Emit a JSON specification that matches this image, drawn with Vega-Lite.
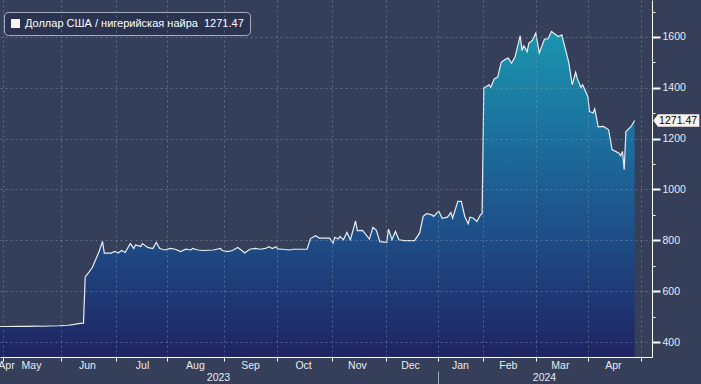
{
  "$schema": "https://vega.github.io/schema/vega-lite/v6.json",
  "width": 652,
  "height": 357,
  "autosize": {"type": "none"},
  "padding": {"left": 0, "top": 0, "right": 49, "bottom": 27},
  "background": "#353f5a",
  "config": {"view": {"stroke": null}, "font": "Liberation Sans"},
  "data": {"values": [
    {"d":"2023-04-25","v":461},{"d":"2023-04-30","v":461},{"d":"2023-05-05","v":461.5},{"d":"2023-05-08","v":462},
    {"d":"2023-05-12","v":461.5},{"d":"2023-05-16","v":462.5},{"d":"2023-05-21","v":462},{"d":"2023-05-24","v":463},
    {"d":"2023-05-30","v":464},{"d":"2023-06-04","v":466},{"d":"2023-06-07","v":468.5},{"d":"2023-06-11","v":473},
    {"d":"2023-06-13","v":474},{"d":"2023-06-14","v":656},{"d":"2023-06-15","v":664},{"d":"2023-06-18","v":692},
    {"d":"2023-06-20","v":724},{"d":"2023-06-22","v":756},{"d":"2023-06-24","v":796},{"d":"2023-06-25","v":750},
    {"d":"2023-06-29","v":750},{"d":"2023-07-01","v":756},{"d":"2023-07-03","v":750},{"d":"2023-07-05","v":760},
    {"d":"2023-07-07","v":752},{"d":"2023-07-10","v":787},{"d":"2023-07-12","v":768},{"d":"2023-07-13","v":782},
    {"d":"2023-07-16","v":776},{"d":"2023-07-17","v":787},{"d":"2023-07-20","v":772},{"d":"2023-07-23","v":768},
    {"d":"2023-07-25","v":792},{"d":"2023-07-27","v":768},{"d":"2023-07-30","v":762},{"d":"2023-08-02","v":768},
    {"d":"2023-08-05","v":765},{"d":"2023-08-08","v":756},{"d":"2023-08-11","v":765},{"d":"2023-08-14","v":762},
    {"d":"2023-08-15","v":768},{"d":"2023-08-18","v":762},{"d":"2023-08-21","v":760},{"d":"2023-08-27","v":762},
    {"d":"2023-08-31","v":768},{"d":"2023-09-01","v":760},{"d":"2023-09-04","v":756},{"d":"2023-09-07","v":760},
    {"d":"2023-09-10","v":772},{"d":"2023-09-12","v":762},{"d":"2023-09-14","v":750},{"d":"2023-09-17","v":765},
    {"d":"2023-09-20","v":768},{"d":"2023-09-23","v":765},{"d":"2023-09-26","v":768},{"d":"2023-09-28","v":775},
    {"d":"2023-09-30","v":768},{"d":"2023-10-02","v":775},{"d":"2023-10-03","v":766},{"d":"2023-10-06","v":765},
    {"d":"2023-10-10","v":762},{"d":"2023-10-12","v":765},{"d":"2023-10-20","v":765},{"d":"2023-10-22","v":807},
    {"d":"2023-10-25","v":818},{"d":"2023-10-27","v":809},{"d":"2023-11-02","v":809},{"d":"2023-11-04","v":789},
    {"d":"2023-11-05","v":812},{"d":"2023-11-07","v":805},{"d":"2023-11-08","v":815},{"d":"2023-11-10","v":802},
    {"d":"2023-11-12","v":831},{"d":"2023-11-14","v":802},{"d":"2023-11-17","v":876},{"d":"2023-11-18","v":838},
    {"d":"2023-11-21","v":839},{"d":"2023-11-25","v":805},{"d":"2023-11-27","v":851},{"d":"2023-11-29","v":839},
    {"d":"2023-12-01","v":795},{"d":"2023-12-05","v":792},{"d":"2023-12-06","v":844},{"d":"2023-12-08","v":802},
    {"d":"2023-12-10","v":835},{"d":"2023-12-12","v":802},{"d":"2023-12-15","v":799},{"d":"2023-12-21","v":799},
    {"d":"2023-12-24","v":829},{"d":"2023-12-26","v":894},{"d":"2023-12-28","v":905},{"d":"2023-12-31","v":900},
    {"d":"2024-01-01","v":894},{"d":"2024-01-04","v":914},{"d":"2024-01-06","v":887},{"d":"2024-01-09","v":891},
    {"d":"2024-01-11","v":909},{"d":"2024-01-12","v":887},{"d":"2024-01-15","v":953},{"d":"2024-01-17","v":953},
    {"d":"2024-01-19","v":894},{"d":"2024-01-21","v":865},{"d":"2024-01-22","v":891},{"d":"2024-01-24","v":887},
    {"d":"2024-01-26","v":874},{"d":"2024-01-28","v":900},{"d":"2024-01-29","v":905},{"d":"2024-01-30","v":1399},
    {"d":"2024-02-02","v":1412},{"d":"2024-02-03","v":1402},{"d":"2024-02-05","v":1435},{"d":"2024-02-07","v":1442},
    {"d":"2024-02-09","v":1500},{"d":"2024-02-11","v":1510},{"d":"2024-02-13","v":1517},{"d":"2024-02-15","v":1497},
    {"d":"2024-02-17","v":1521},{"d":"2024-02-20","v":1605},{"d":"2024-02-21","v":1547},{"d":"2024-02-22","v":1565},
    {"d":"2024-02-23","v":1555},{"d":"2024-02-24","v":1542},{"d":"2024-02-25","v":1576},{"d":"2024-02-27","v":1586},
    {"d":"2024-02-29","v":1616},{"d":"2024-03-02","v":1537},{"d":"2024-03-05","v":1592},{"d":"2024-03-07","v":1592},
    {"d":"2024-03-09","v":1622},{"d":"2024-03-11","v":1612},{"d":"2024-03-13","v":1602},{"d":"2024-03-15","v":1608},
    {"d":"2024-03-19","v":1500},{"d":"2024-03-21","v":1412},{"d":"2024-03-23","v":1461},{"d":"2024-03-24","v":1435},
    {"d":"2024-03-26","v":1402},{"d":"2024-03-27","v":1412},{"d":"2024-03-30","v":1366},{"d":"2024-03-31","v":1307},
    {"d":"2024-04-02","v":1301},{"d":"2024-04-03","v":1317},{"d":"2024-04-05","v":1246},{"d":"2024-04-08","v":1248},
    {"d":"2024-04-11","v":1235},{"d":"2024-04-13","v":1157},{"d":"2024-04-15","v":1150},{"d":"2024-04-17","v":1143},
    {"d":"2024-04-18","v":1133},{"d":"2024-04-19","v":1150},{"d":"2024-04-20","v":1078},{"d":"2024-04-21","v":1228},
    {"d":"2024-04-24","v":1248},{"d":"2024-04-26","v":1271.47}
  ]},
  "resolve": {"axis": {"x": "independent", "y": "independent"}},
  "layer": [
    {
      "mark": {
        "type": "area",
        "clip": true,
        "color": {
          "gradient": "linear", "x1": 0, "y1": 0, "x2": 0, "y2": 1,
          "stops": [
            {"offset": 0, "color": "#1a95ae"},
            {"offset": 0.33, "color": "#1c6f9d"},
            {"offset": 0.64, "color": "#1e4c86"},
            {"offset": 1, "color": "#1f2462"}
          ]
        }
      },
      "encoding": {
        "x": {
          "field": "d", "type": "temporal",
          "scale": {"type": "utc", "nice": false, "domain": [1682452000000, 1714957056000]},
          "axis": {
            "orient": "bottom",
            "title": null,
            "values": [1682616672000, 1685478240000, 1688219712000, 1690777152000, 1693633536000, 1696246272000, 1698987744000, 1701694656000, 1704302208000, 1706515776000, 1709157888000, 1711749888000, 1714407552000],
            "labels": false,
            "ticks": true,
            "tickSize": 4,
            "tickColor": "#ffffff",
            "domain": true,
            "domainColor": "#ffffff",
            "grid": true,
            "gridColor": "#8796b5",
            "gridOpacity": 0.5,
            "gridDash": [2, 3],
            "zindex": 1
          }
        },
        "y": {
          "field": "v", "type": "quantitative",
          "scale": {"domain": [341, 1745.5], "nice": false, "zero": false},
          "axis": {
            "orient": "right",
            "title": null,
            "values": [400, 600, 800, 1000, 1200, 1400, 1600],
            "format": "d",
            "tickSize": 8,
            "tickWidth": 2,
            "tickColor": "#ffffff",
            "domainColor": "#ffffff",
            "labelPadding": 2,
            "labelColor": "#e8ebf0",
            "labelFontSize": 10.5,
            "labelFont": "Liberation Sans",
            "grid": true,
            "gridColor": "#8796b5",
            "gridOpacity": 0.5,
            "gridDash": [2, 3],
            "zindex": 1
          }
        },
        "y2": {"datum": 341}
      }
    },
    {
      "mark": {"type": "line", "color": "#e6ecf2", "strokeWidth": 1.2},
      "encoding": {
        "x": {
          "field": "d", "type": "temporal",
          "scale": {"type": "utc", "nice": false, "domain": [1682452000000, 1714957056000]},
          "axis": {
            "orient": "bottom",
            "title": null,
            "values": [1682751456000, 1683996480000, 1686787200000, 1689534720000, 1692169920000, 1694917440000, 1697561280000, 1700248320000, 1702892160000, 1705380480000, 1707773760000, 1710365760000, 1713009600000],
            "format": "%b",
            "ticks": false,
            "domain": false,
            "grid": false,
            "labelPadding": 3,
            "labelColor": "#e8ebf0",
            "labelFontSize": 10.5,
            "labelFont": "Liberation Sans",
            "labelOverlap": false,
            "labelFlush": false,
            "labelBound": false
          }
        },
        "y": {
          "field": "v", "type": "quantitative",
          "scale": {"domain": [341, 1745.5], "nice": false, "zero": false},
          "axis": {
            "orient": "right",
            "title": null,
            "values": [500, 700, 900, 1100, 1300, 1500, 1700],
            "labels": false,
            "tickSize": 3,
            "tickColor": "#ffffff",
            "domain": false,
            "grid": false
          }
        }
      }
    },
    {
      "transform": [
        {"window": [{"op": "row_number", "as": "r"}], "sort": [{"field": "d", "order": "descending"}]},
        {"filter": "datum.r == 1"}
      ],
      "mark": {
        "type": "point",
        "filled": true,
        "opacity": 1,
        "shape": "M -1 0 L -0.8 -0.27 L 1 -0.27 L 1 0.27 L -0.8 0.27 Z",
        "size": 2116,
        "xOffset": 41.7
      },
      "encoding": {
        "x": {
          "field": "d", "type": "temporal",
          "scale": {"type": "utc", "nice": false, "domain": [1682452000000, 1714957056000]},
          "axis": {
            "orient": "bottom",
            "title": null,
            "values": [1693319040000, 1709570880000],
            "format": "%Y",
            "ticks": false,
            "domain": false,
            "grid": false,
            "labelPadding": 15,
            "labelColor": "#e8ebf0",
            "labelFontSize": 10.5,
            "labelFont": "Liberation Sans",
            "labelOverlap": false,
            "labelFlush": false
          }
        },
        "y": {"field": "v", "type": "quantitative", "scale": {"domain": [341, 1745.5], "nice": false, "zero": false}, "axis": null},
        "color": {
          "datum": "Доллар США / нигерийская найра\u00a0 1271.47",
          "type": "nominal",
          "scale": {"range": ["#fdf3ee"]},
          "legend": {
            "orient": "none",
            "legendX": 4,
            "legendY": 12,
            "title": null,
            "symbolType": "square",
            "symbolSize": 81,
            "symbolStrokeWidth": 0,
            "fillColor": "#2a3350",
            "strokeColor": "#a7afbf",
            "cornerRadius": 4,
            "padding": 6,
            "labelColor": "#ffffff",
            "labelFontSize": 11,
            "labelFont": "Liberation Sans",
            "labelOffset": 4,
            "labelLimit": 400
          }
        }
      }
    },
    {
      "transform": [
        {"window": [{"op": "row_number", "as": "r"}], "sort": [{"field": "d", "order": "descending"}]},
        {"filter": "datum.r == 1"}
      ],
      "mark": {
        "type": "text",
        "xOffset": 43.5,
        "dy": 0.5,
        "fontSize": 10.5,
        "font": "Liberation Sans",
        "color": "#000000",
        "align": "center",
        "baseline": "middle"
      },
      "encoding": {
        "x": {
          "field": "d", "type": "temporal",
          "scale": {"type": "utc", "nice": false, "domain": [1682452000000, 1714957056000]},
          "axis": {
            "orient": "bottom",
            "title": null,
            "values": [1704302208000],
            "labels": false,
            "ticks": true,
            "tickSize": 13,
            "tickColor": "#a0a7b5",
            "domain": false,
            "grid": false,
            "offset": 14
          }
        },
        "y": {"field": "v", "type": "quantitative", "scale": {"domain": [341, 1745.5], "nice": false, "zero": false}, "axis": null},
        "text": {"field": "v", "type": "quantitative", "format": ".2f"}
      }
    }
  ]
}
